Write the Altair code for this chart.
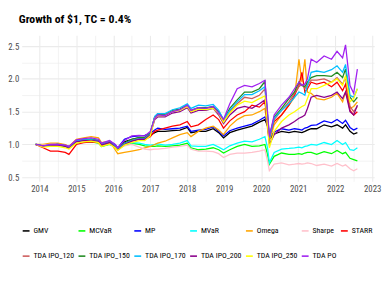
import altair as alt
import pandas as pd

# time points (decimal years)
T = [2013.90, 2014.10, 2014.30, 2014.50, 2014.70, 2014.80, 2015.00, 2015.20, 2015.40, 2015.60,
     2015.68, 2015.90, 2016.05, 2016.12, 2016.30, 2016.50, 2016.70, 2016.85, 2017.00, 2017.12,
     2017.20, 2017.40, 2017.60, 2017.80, 2018.00, 2018.10, 2018.30, 2018.50, 2018.70, 2018.85,
     2018.98, 2019.15, 2019.35, 2019.55, 2019.75, 2019.95, 2020.10, 2020.17, 2020.22, 2020.35,
     2020.55, 2020.75, 2020.90, 2021.02, 2021.10, 2021.18, 2021.25, 2021.35, 2021.50, 2021.70,
     2021.90, 2022.05, 2022.20, 2022.28, 2022.40, 2022.50, 2022.60]

SERIES = ["GMV", "MCVaR", "MP", "MVaR", "Omega", "Sharpe", "STARR",
          "TDA IPO_120", "TDA IPO_150", "TDA IPO_170", "TDA IPO_200", "TDA IPO_250", "TDA PO"]
COLORS = ["#000000", "#00FF00", "#0000FF", "#00FFFF", "#FFA500", "#FFC0CB", "#FF0000",
          "#CD5C5C", "#228B22", "#00BFFF", "#8B008B", "#FFFF00", "#A020F0"]

GMV = [1.00, 0.98, 0.99, 1.00, 0.98, 0.96, 1.04, 1.06, 1.06, 1.05, 0.99, 1.03, 0.98, 0.94, 1.04,
       1.08, 1.10, 1.10, 1.14, 1.18, 1.20, 1.20, 1.21, 1.22, 1.26, 1.18, 1.20, 1.20, 1.24, 1.18,
       1.10, 1.18, 1.22, 1.25, 1.28, 1.34, 1.38, 1.28, 1.08, 1.16, 1.20, 1.18, 1.20, 1.19, 1.18,
       1.20, 1.22, 1.24, 1.24, 1.30, 1.27, 1.30, 1.25, 1.30, 1.20, 1.16, 1.18]
MCVaR = [1.00, 0.98, 0.99, 0.99, 0.97, 0.95, 1.02, 1.04, 1.04, 1.02, 0.97, 1.00, 0.96, 0.92, 0.99,
         1.02, 1.00, 0.98, 0.97, 0.97, 0.98, 0.97, 0.98, 0.99, 1.02, 0.95, 0.92, 0.93, 0.95, 0.92,
         0.87, 0.92, 0.97, 1.00, 0.97, 0.98, 1.00, 0.85, 0.70, 0.82, 0.87, 0.85, 0.85, 0.86, 0.85,
         0.87, 0.88, 0.88, 0.85, 0.89, 0.86, 0.91, 0.86, 0.88, 0.79, 0.77, 0.75]
MP = [1.00, 0.99, 1.00, 1.01, 0.99, 0.97, 1.05, 1.07, 1.07, 1.06, 1.00, 1.05, 1.00, 0.95, 1.08,
      1.12, 1.13, 1.14, 1.17, 1.22, 1.25, 1.23, 1.24, 1.25, 1.28, 1.20, 1.22, 1.23, 1.27, 1.20,
      1.13, 1.21, 1.25, 1.28, 1.31, 1.37, 1.42, 1.30, 1.10, 1.19, 1.24, 1.22, 1.24, 1.23, 1.22,
      1.25, 1.26, 1.29, 1.30, 1.36, 1.33, 1.38, 1.32, 1.37, 1.26, 1.22, 1.25]
MVaR = [1.00, 0.98, 0.99, 1.00, 0.98, 0.96, 1.03, 1.05, 1.05, 1.04, 0.99, 1.02, 0.97, 0.93, 1.00,
        1.03, 1.02, 1.00, 0.99, 1.00, 1.01, 0.99, 1.00, 1.02, 1.06, 0.98, 0.97, 0.97, 1.00, 0.96,
        0.92, 0.98, 1.02, 1.05, 1.04, 1.08, 1.12, 0.95, 0.72, 0.88, 0.93, 0.94, 0.95, 0.96, 0.95,
        0.97, 0.98, 1.00, 0.99, 1.03, 1.00, 1.06, 1.00, 1.03, 0.92, 0.91, 0.95]
Omega = [1.00, 1.00, 1.02, 1.02, 1.00, 0.97, 1.08, 1.10, 1.12, 1.10, 1.03, 1.05, 0.92, 0.86, 0.88,
         0.90, 0.92, 0.95, 0.97, 1.00, 1.02, 1.05, 1.10, 1.15, 1.18, 1.12, 1.20, 1.25, 1.28, 1.22,
         1.15, 1.28, 1.38, 1.44, 1.45, 1.50, 1.55, 1.25, 1.05, 1.30, 1.45, 1.60, 1.72, 2.30, 1.95,
         2.30, 1.80, 1.78, 1.70, 1.68, 1.72, 1.78, 1.65, 1.80, 1.55, 1.58, 1.65]
Sharpe = [1.00, 0.99, 1.00, 1.00, 0.98, 0.96, 1.03, 1.05, 1.05, 1.03, 0.98, 1.01, 0.96, 0.92, 0.98,
          1.00, 0.96, 0.93, 0.92, 0.93, 0.93, 0.94, 0.96, 0.97, 0.99, 0.93, 0.90, 0.90, 0.89, 0.86,
          0.80, 0.85, 0.87, 0.87, 0.88, 0.90, 0.92, 0.75, 0.60, 0.70, 0.72, 0.69, 0.70, 0.71, 0.70,
          0.71, 0.72, 0.71, 0.68, 0.70, 0.67, 0.71, 0.67, 0.69, 0.63, 0.60, 0.63]
STARR = [1.00, 0.95, 0.90, 0.90, 0.88, 0.85, 1.00, 1.03, 1.04, 1.03, 0.98, 1.02, 0.97, 0.92, 1.00,
         1.05, 1.08, 1.08, 1.12, 1.20, 1.22, 1.25, 1.28, 1.30, 1.35, 1.27, 1.30, 1.38, 1.45, 1.38,
         1.25, 1.36, 1.45, 1.50, 1.60, 1.57, 1.65, 1.35, 1.12, 1.35, 1.45, 1.60, 1.75, 1.90, 2.10,
         1.80, 1.85, 1.95, 1.92, 1.95, 1.88, 1.95, 1.82, 1.92, 1.52, 1.45, 1.50]
IPO_120 = [1.00, 0.98, 0.99, 1.00, 0.98, 0.95, 1.05, 1.07, 1.07, 1.06, 1.00, 1.04, 0.97, 0.93, 1.02,
           1.07, 1.10, 1.10, 1.17, 1.42, 1.47, 1.46, 1.50, 1.53, 1.58, 1.50, 1.55, 1.55, 1.57, 1.48,
           1.36, 1.50, 1.62, 1.72, 1.70, 1.75, 1.85, 1.40, 1.10, 1.38, 1.52, 1.65, 1.78, 1.88, 1.92,
           1.85, 1.90, 1.98, 1.98, 2.00, 1.95, 2.02, 1.92, 2.02, 1.58, 1.50, 1.58]
IPO_150 = [1.00, 0.98, 0.99, 1.00, 0.98, 0.95, 1.05, 1.07, 1.08, 1.06, 1.00, 1.04, 0.97, 0.93, 1.02,
           1.08, 1.11, 1.11, 1.18, 1.42, 1.46, 1.45, 1.52, 1.54, 1.60, 1.52, 1.56, 1.56, 1.58, 1.50,
           1.38, 1.55, 1.68, 1.80, 1.80, 1.85, 1.96, 1.45, 1.12, 1.42, 1.55, 1.70, 1.80, 1.95, 1.90,
           1.88, 1.95, 2.02, 2.05, 2.05, 2.04, 2.10, 2.02, 2.15, 1.72, 1.65, 1.72]
IPO_170 = [1.00, 0.98, 0.99, 1.00, 0.98, 0.95, 1.05, 1.07, 1.07, 1.06, 1.00, 1.04, 0.97, 0.93, 1.01,
           1.06, 1.09, 1.09, 1.16, 1.43, 1.47, 1.47, 1.53, 1.56, 1.62, 1.55, 1.60, 1.59, 1.61, 1.52,
           1.38, 1.52, 1.65, 1.76, 1.76, 1.82, 1.88, 1.45, 1.10, 1.40, 1.52, 1.62, 1.72, 1.80, 1.78,
           1.75, 1.90, 2.10, 2.12, 2.10, 2.14, 2.20, 2.10, 2.22, 1.75, 1.72, 1.85]
IPO_200 = [1.00, 0.97, 0.98, 0.99, 0.97, 0.94, 1.04, 1.06, 1.06, 1.05, 0.99, 1.03, 0.96, 0.92, 1.00,
           1.05, 1.08, 1.08, 1.15, 1.38, 1.42, 1.42, 1.48, 1.50, 1.56, 1.48, 1.52, 1.52, 1.55, 1.45,
           1.32, 1.45, 1.55, 1.58, 1.55, 1.62, 1.68, 1.30, 1.00, 1.15, 1.25, 1.30, 1.35, 1.40, 1.42,
           1.45, 1.55, 1.72, 1.75, 1.72, 1.75, 1.80, 1.70, 1.80, 1.50, 1.45, 1.60]
IPO_250 = [1.00, 0.96, 0.97, 0.97, 0.95, 0.93, 1.02, 1.04, 1.05, 1.03, 0.97, 1.01, 0.95, 0.91, 0.99,
           1.03, 1.06, 1.06, 1.13, 1.40, 1.44, 1.44, 1.50, 1.52, 1.58, 1.50, 1.54, 1.53, 1.55, 1.47,
           1.34, 1.48, 1.60, 1.66, 1.64, 1.70, 1.74, 1.30, 0.95, 1.20, 1.35, 1.45, 1.50, 1.55, 1.58,
           1.60, 1.70, 1.85, 1.85, 1.90, 1.95, 2.00, 1.90, 2.05, 1.65, 1.70, 1.85]
PO = [1.00, 0.98, 1.00, 1.00, 0.99, 0.97, 1.07, 1.09, 1.10, 1.08, 1.02, 1.06, 1.00, 0.95, 1.06,
      1.13, 1.14, 1.13, 1.20, 1.40, 1.45, 1.44, 1.50, 1.53, 1.60, 1.52, 1.56, 1.55, 1.58, 1.48,
      1.38, 1.62, 1.85, 1.90, 1.88, 1.93, 1.98, 1.50, 1.12, 1.45, 1.60, 1.72, 1.85, 1.95, 1.90,
      1.92, 2.00, 2.30, 2.25, 2.35, 2.30, 2.42, 2.32, 2.52, 1.90, 1.78, 2.15]

VALUES = [GMV, MCVaR, MP, MVaR, Omega, Sharpe, STARR,
          IPO_120, IPO_150, IPO_170, IPO_200, IPO_250, PO]

rows = []
for name, vals in zip(SERIES, VALUES):
    for t, v in zip(T, vals):
        rows.append({"year": t, "value": v, "series": name})
df = pd.DataFrame(rows)

FONT = ("'Liberation Sans Narrow', 'Noto Sans Condensed', "
        "'Roboto Condensed', 'DejaVu Sans Condensed', 'Liberation Sans', sans-serif")

x_ticks = [2014 + 0.5 * i for i in range(19)]
y_ticks = [0.5 + 0.25 * i for i in range(9)]

chart = alt.Chart(df).mark_line(strokeWidth=1.3).encode(
    x=alt.X("year:Q",
            scale=alt.Scale(domain=[2013.523, 2023.055], nice=False, zero=False),
            axis=alt.Axis(values=x_ticks, title=None, domain=False, ticks=False,
                          labelPadding=3, labelFlush=False, labelOverlap=False,
                          labelExpr="datum.value % 1 == 0 ? format(datum.value, 'd') : ''",
                          gridColor="#EBEBEB",
                          gridWidth={"condition": {"test": "datum.value % 1 != 0", "value": 0.6},
                                     "value": 1.1})),
    y=alt.Y("value:Q",
            scale=alt.Scale(domain=[0.44, 2.664], nice=False, zero=False),
            axis=alt.Axis(values=y_ticks, title=None, domain=False, ticks=False,
                          labelPadding=3, labelOverlap=False,
                          labelExpr="datum.value % 0.5 == 0 ? format(datum.value, '.1f') : ''",
                          gridColor="#EBEBEB",
                          gridWidth={"condition": {"test": "datum.value % 0.5 != 0", "value": 0.6},
                                     "value": 1.1})),
    color=alt.Color("series:N",
                    scale=alt.Scale(domain=SERIES, range=COLORS),
                    legend=alt.Legend(orient="none", legendX=0, legendY=195, columns=7,
                                      direction="horizontal",
                                      title=None, symbolType="stroke", symbolSize=49,
                                      symbolStrokeWidth=1.6, labelFont=FONT, labelFontSize=8,
                                      labelColor="#000000", columnPadding=0, rowPadding=17,
                                      labelOffset=3)),
    detail="series:N",
).properties(
    width=360,
    height=149,
    title=alt.TitleParams("Growth of $1, TC = 0.4%", anchor="start", frame="group", dx=-3,
                          font=FONT, fontSize=12, fontWeight="bold", color="#000000", offset=10),
    autosize=alt.AutoSizeParams(type="none"),
    padding={"left": 14, "top": 25, "right": 10, "bottom": 100},
).configure_view(stroke="transparent").configure_axis(
    labelFont=FONT, labelFontSize=9, labelColor="#4D4D4D"
)

chart.save("out.html", embed_options={"renderer": "svg", "actions": False})
